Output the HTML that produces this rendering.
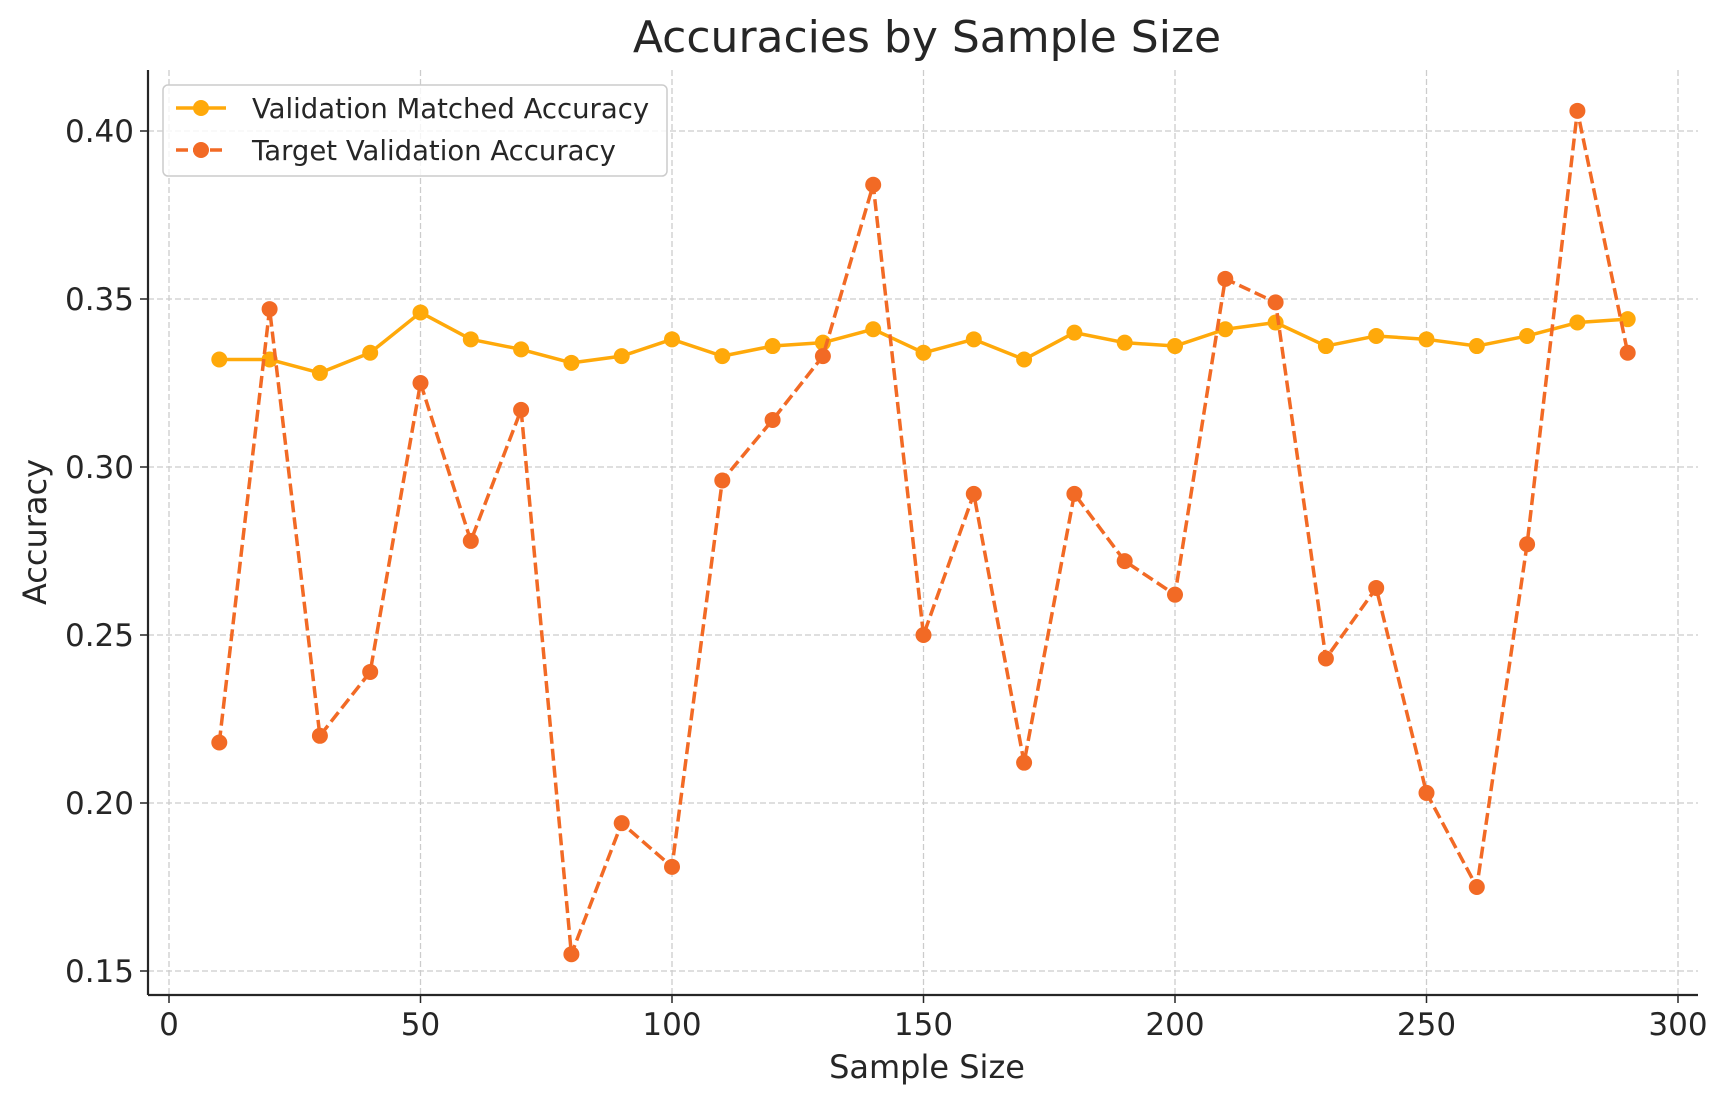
<!DOCTYPE html>
<html><head><meta charset="utf-8"><style>
body{margin:0;background:#fff}
svg text{font-family:"DejaVu Sans","Liberation Sans",sans-serif;fill:#262626}
</style></head><body>
<svg id="chart" width="1730" height="1101" viewBox="0 0 1730 1101" xmlns="http://www.w3.org/2000/svg">
<g id="grid"></g>
<g id="axes"></g>
<g id="series"></g>
<text x="927" y="52" font-size="44" text-anchor="middle">Accuracies by Sample Size</text>
<text x="927" y="1078" font-size="32" text-anchor="middle">Sample Size</text>
<text transform="translate(46,532) rotate(-90)" font-size="32" text-anchor="middle">Accuracy</text>
<g>
<rect x="163" y="85" width="504" height="91" rx="5" fill="#fff" fill-opacity="0.8" stroke="#ccc" stroke-width="1.5"/>
<g>
<line x1="176" y1="108" x2="226" y2="108" stroke="#FFA90A" stroke-width="3.5"/>
<circle cx="201" cy="108" r="8" fill="#FFA90A"/>
<text x="252" y="118" font-size="27.5">Validation Matched Accuracy</text>
</g>
<g>
<line x1="176" y1="150" x2="226" y2="150" stroke="#F26A25" stroke-width="3.5" stroke-dasharray="12,5"/>
<circle cx="201" cy="150" r="8" fill="#F26A25"/>
<text x="252" y="160" font-size="27.5">Target Validation Accuracy</text>
</g>
</g>
</svg>
<script>
const sampleSizes=[10,20,30,40,50,60,70,80,90,100,110,120,130,140,150,160,170,180,190,200,210,220,230,240,250,260,270,280,290];
const matchedAcc=[0.332,0.332,0.328,0.334,0.346,0.338,0.335,0.331,0.333,0.338,0.333,0.336,0.337,0.341,0.334,0.338,0.332,0.340,0.337,0.336,0.341,0.343,0.336,0.339,0.338,0.336,0.339,0.343,0.344];
const targetAcc=[0.218,0.347,0.220,0.239,0.325,0.278,0.317,0.155,0.194,0.181,0.296,0.314,0.333,0.384,0.250,0.292,0.212,0.292,0.272,0.262,0.356,0.349,0.243,0.264,0.203,0.175,0.277,0.406,0.334];
const xTicks=[0,50,100,150,200,250,300];
const yTicks=[0.15,0.20,0.25,0.30,0.35,0.40];
const yTickLabels=["0.15","0.20","0.25","0.30","0.35","0.40"];

const NS="http://www.w3.org/2000/svg";
const L=148,R=1698,T=70,B=995;
function xs(v){return 169+(v-0)*(1678-169)/300;}
function ys(v){return 971+(v-0.15)*(131-971)/0.25;}
function mk(tag,attrs,parent){const e=document.createElementNS(NS,tag);for(const k in attrs)e.setAttribute(k,attrs[k]);parent.appendChild(e);return e;}
const grid=document.getElementById('grid'),axes=document.getElementById('axes'),series=document.getElementById('series');
xTicks.forEach(t=>{
  const g=mk('line',{x1:xs(t),x2:xs(t),y1:T,y2:B,stroke:'#ccc','stroke-width':1.3,'stroke-dasharray':'6,3'},grid);
  
  
  mk('line',{x1:xs(t),x2:xs(t),y1:B,y2:B+8,stroke:'#262626','stroke-width':1.5},axes);
  const tx=mk('text',{x:xs(t),y:B+40,'font-size':31,'text-anchor':'middle'},axes);
  tx.textContent=t;
  
  
});
yTicks.forEach((t,i)=>{
  const g=mk('line',{x1:L,x2:R,y1:ys(t),y2:ys(t),stroke:'#ccc','stroke-width':1.3,'stroke-dasharray':'6,3'},grid);
  
  
  mk('line',{x1:L-8,x2:L,y1:ys(t),y2:ys(t),stroke:'#262626','stroke-width':1.5},axes);
  const tx=mk('text',{x:L-14,y:ys(t)+11,'font-size':31,'text-anchor':'end'},axes);
  tx.textContent=yTickLabels[i];
  
  
});
mk('line',{x1:L,x2:L,y1:T,y2:B,stroke:'#262626','stroke-width':2.2},axes);
mk('line',{x1:L,x2:R,y1:B,y2:B,stroke:'#262626','stroke-width':2.2},axes);
function drawSeries(vals,color,dash,name){
  const pts=sampleSizes.map((s,i)=>xs(s)+','+ys(vals[i])).join(' ');
  const pl=mk('polyline',{points:pts,fill:'none',stroke:color,'stroke-width':3.5,'stroke-linejoin':'round'},series);
  if(dash)pl.setAttribute('stroke-dasharray',dash);
  
  
  sampleSizes.forEach((s,i)=>{
    const c=mk('circle',{cx:xs(s),cy:ys(vals[i]),r:8,fill:color},series);
    
    
  });
}
drawSeries(matchedAcc,'#FFA90A',null,'validation-matched');
drawSeries(targetAcc,'#F26A25','12,5','target-validation');
</script>
</body></html>
